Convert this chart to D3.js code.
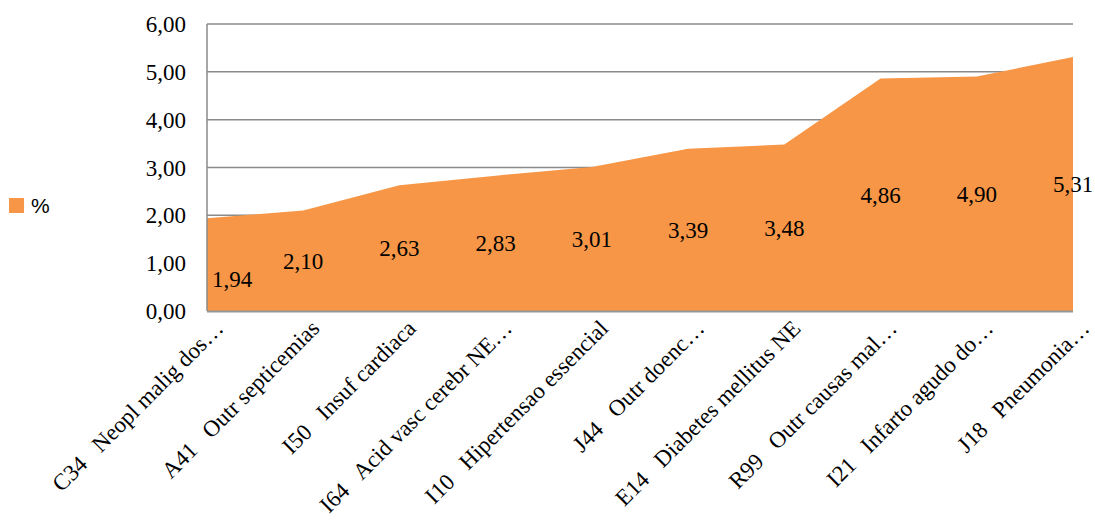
<!DOCTYPE html>
<html>
<head>
<meta charset="utf-8">
<script src="https://cdn.jsdelivr.net/npm/d3@7/dist/d3.min.js"></script>
<style>
  html, body { margin: 0; padding: 0; background: #fff; }
  svg { display: block; }
  text { white-space: pre; }
</style>
</head>
<body>
<svg id="chart" width="1095" height="522"></svg>
<script>
// Causes (ICD code + short description), ordered by share
const categories = [
  "C34   Neopl malig dos…",
  "A41   Outr septicemias",
  "I50   Insuf cardiaca",
  "I64   Acid vasc cerebr NE…",
  "I10   Hipertensao essencial",
  "J44   Outr doenc…",
  "E14   Diabetes mellitus NE",
  "R99   Outr causas mal…",
  "I21   Infarto agudo do…",
  "J18   Pneumonia…"
];
const values = [1.94, 2.10, 2.63, 2.83, 3.01, 3.39, 3.48, 4.86, 4.90, 5.31];
const yTicks = [0, 1, 2, 3, 4, 5, 6];
const seriesName = "%";

const svg = d3.select("#chart");
const margin = { left: 207, right: 22, top: 24, bottom: 211 };
const W = 1095, H = 522;

const fmt = v => d3.format(".2f")(v).replace(".", ",");

const x = d3.scalePoint()
  .domain(d3.range(categories.length))
  .range([margin.left, W - margin.right]);
const y = d3.scaleLinear().domain([0, 6]).range([H - margin.bottom, margin.top]);

const serif = "'Liberation Serif', 'Times New Roman', serif";
const gridColor = "#8a8a8a";

// Horizontal gridlines
svg.append("g")
  .selectAll("line")
  .data(yTicks.filter(t => t > 0))
  .join("line")
  .attr("x1", margin.left).attr("x2", W - margin.right)
  .attr("y1", d => y(d)).attr("y2", d => y(d))
  .attr("stroke", gridColor).attr("stroke-width", 1.5);

// Area
const area = d3.area()
  .x((d, i) => x(i))
  .y0(y(0))
  .y1(d => y(d));
svg.append("path")
  .datum(values)
  .attr("d", area)
  .attr("fill", "#F79646");

// Left axis line
svg.append("line")
  .attr("x1", margin.left).attr("x2", margin.left)
  .attr("y1", y(6)).attr("y2", y(0))
  .attr("stroke", gridColor).attr("stroke-width", 1.5);

// Bottom axis line
svg.append("line")
  .attr("x1", margin.left).attr("x2", W - margin.right)
  .attr("y1", y(0) + 0.5).attr("y2", y(0) + 0.5)
  .attr("stroke", "#959595").attr("stroke-width", 2);

// Y tick labels
svg.append("g")
  .selectAll("text")
  .data(yTicks)
  .join("text")
  .attr("x", 186)
  .attr("y", d => y(d))
  .attr("dy", "0.35em")
  .attr("text-anchor", "end")
  .attr("font-family", serif)
  .attr("font-size", 23)
  .attr("fill", "#000")
  .text(fmt);

// Data labels, centred halfway up each point; the edge label is kept inside the plot
svg.append("g")
  .selectAll("text")
  .data(values)
  .join("text")
  .attr("x", (d, i) => i === 0 ? x(i) + 25 : x(i))
  .attr("y", (d, i) => i === 0 ? y(d / 2) + 14 : y(d / 2))
  .attr("dy", "0.35em")
  .attr("text-anchor", "middle")
  .attr("font-family", serif)
  .attr("font-size", 23)
  .attr("fill", "#000")
  .text(fmt);

// Category labels, rotated 45°
svg.append("g")
  .selectAll("text")
  .data(categories)
  .join("text")
  .attr("transform", (d, i) => `translate(${x(i) + 12},${y(0) + 13}) rotate(-45)`)
  .attr("dy", "0.35em")
  .attr("text-anchor", "end")
  .attr("font-family", serif)
  .attr("font-size", 23)
  .attr("fill", "#000")
  .text(d => d);

// Legend
const legend = svg.append("g").attr("transform", "translate(9,198)");
legend.append("rect").attr("width", 15).attr("height", 15).attr("fill", "#F79646");
legend.append("text")
  .attr("x", 22).attr("y", 7.5).attr("dy", "0.35em")
  .attr("font-family", "'Liberation Sans', Arial, sans-serif")
  .attr("font-size", 21)
  .attr("fill", "#000")
  .text(seriesName);
</script>
</body>
</html>
